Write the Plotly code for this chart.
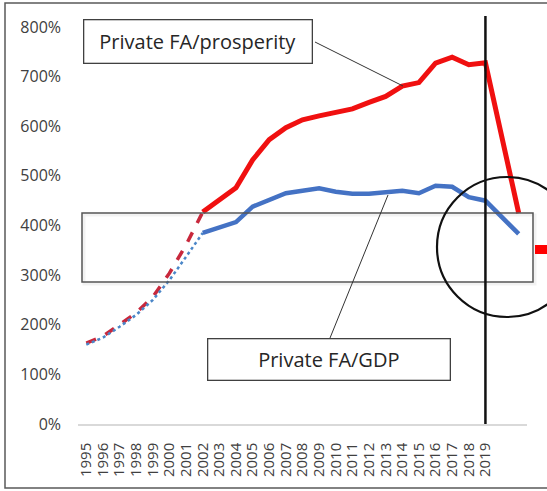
import plotly.graph_objects as go

# Years on the category axis (2020 and 2021 slots carry no label)
years = list(range(1995, 2022))
tick_years = list(range(1995, 2020))

# Private financial assets relative to prosperity (%), solid series 2002-2021
prosperity_years = list(range(2002, 2022))
prosperity = [427, 452, 476, 532, 573, 597, 613, 621, 629, 635, 648, 660,
              681, 688, 727, 739, 724, 728, None, 425]

# Private financial assets relative to GDP (%), solid series 2002-2021
gdp_years = list(range(2002, 2022))
gdp = [385, 395, 407, 438, 452, 465, 470, 475, 468, 464, 464, 466,
       470, 465, 480, 478, 457, 450, None, 383]

# Back-cast estimates 1995-2002
early_years = list(range(1995, 2003))
prosperity_early = [163, 177, 200, 224, 256, 304, 361, 427]
gdp_early = [160, 174, 196, 220, 250, 290, 337, 385]

# Value axis ticks
y_ticks = list(range(0, 801, 100))
y_tick_text = [f"{v}%" for v in y_ticks]

W, H = 547, 491
L, R, T, B = 78, 20, 27, 67
PW, PH = W - L - R, H - T - B


def px(x):
    return (x - L) / PW


def py(y):
    return (H - B - y) / PH


fig = go.Figure()

fig.add_trace(go.Scatter(x=early_years, y=prosperity_early, mode="lines",
                         line=dict(color="#C8283C", width=3.5, dash="dash"),
                         showlegend=False, hoverinfo="skip"))
fig.add_trace(go.Scatter(x=early_years, y=gdp_early, mode="lines",
                         line=dict(color="#4A86C8", width=2.5, dash="dot"),
                         showlegend=False, hoverinfo="skip"))
fig.add_trace(go.Scatter(x=prosperity_years, y=prosperity, mode="lines",
                         connectgaps=True,
                         line=dict(color="#F01010", width=5),
                         name="Private FA/prosperity", showlegend=False))
fig.add_trace(go.Scatter(x=gdp_years, y=gdp, mode="lines",
                         connectgaps=True,
                         line=dict(color="#4472C4", width=4.5),
                         name="Private FA/GDP", showlegend=False))

shapes = [
    # outer frame
    dict(type="rect", xref="paper", yref="paper",
         x0=px(5), x1=px(600), y0=py(488), y1=py(3),
         line=dict(color="#5a5a5a", width=1.5), layer="below"),
    # highlight band (soft shadow + frame)
    dict(type="rect", xref="paper", yref="paper",
         x0=px(84), x1=px(535), y0=py(284), y1=py(215),
         line=dict(color="rgba(0,0,0,0.05)", width=3), layer="below"),
    dict(type="rect", xref="paper", yref="paper",
         x0=px(82), x1=px(533), y0=py(282), y1=py(213),
         line=dict(color="#555555", width=1.5)),
    # 2019 marker line
    dict(type="line", xref="x", yref="paper",
         x0=2019, x1=2019, y0=0, y1=py(16),
         line=dict(color="#111111", width=2.5)),
    # circle around the latest values
    dict(type="circle", xref="paper", yref="paper",
         x0=px(437), x1=px(577), y0=py(317), y1=py(177),
         line=dict(color="#111111", width=2.2)),
    # red tick on the right edge
    dict(type="rect", xref="paper", yref="paper",
         x0=px(535), x1=px(560), y0=py(254), y1=py(245),
         fillcolor="#FF0000", line=dict(width=0)),
    # callout leader lines
    dict(type="line", xref="paper", yref="paper",
         x0=px(315), y0=py(42), x1=px(403), y1=py(86),
         line=dict(color="#333333", width=1)),
    dict(type="line", xref="paper", yref="paper",
         x0=px(330), y0=py(338), x1=px(388), y1=py(195),
         line=dict(color="#333333", width=1)),
]

annotations = [
    dict(xref="paper", yref="paper", x=px(83), y=py(19),
         xanchor="left", yanchor="top", showarrow=False,
         text="Private FA/prosperity", width=227, height=42,
         align="center", valign="middle",
         font=dict(family="Open Sans", size=20, color="#262626"),
         bgcolor="white", bordercolor="#404040", borderwidth=1.3, borderpad=0),
    dict(xref="paper", yref="paper", x=px(207), y=py(338),
         xanchor="left", yanchor="top", showarrow=False,
         text="Private FA/GDP", width=241, height=40,
         align="center", valign="middle",
         font=dict(family="Open Sans", size=20, color="#262626"),
         bgcolor="white", bordercolor="#404040", borderwidth=1.3, borderpad=0),
]

fig.update_layout(
    width=W, height=H,
    margin=dict(l=L, r=R, t=T, b=B),
    paper_bgcolor="white", plot_bgcolor="white",
    shapes=shapes, annotations=annotations,
    xaxis=dict(range=[1994.5, 2021.5], tickmode="array",
               tickvals=tick_years, ticktext=[str(y) for y in tick_years],
               tickangle=-90, showgrid=False, zeroline=False,
               showline=True, linecolor="#d9d9d9", linewidth=1.5,
               ticks="", ticklabelstandoff=11,
               tickfont=dict(family="Open Sans", size=15, color="#404040")),
    yaxis=dict(range=[0, 800], tickmode="array",
               tickvals=y_ticks, ticktext=y_tick_text,
               showgrid=False, zeroline=False,
               showline=False, ticks="", ticklabelstandoff=16,
               tickfont=dict(family="Open Sans", size=16, color="#404040")),
)

fig.write_html("out.html")
